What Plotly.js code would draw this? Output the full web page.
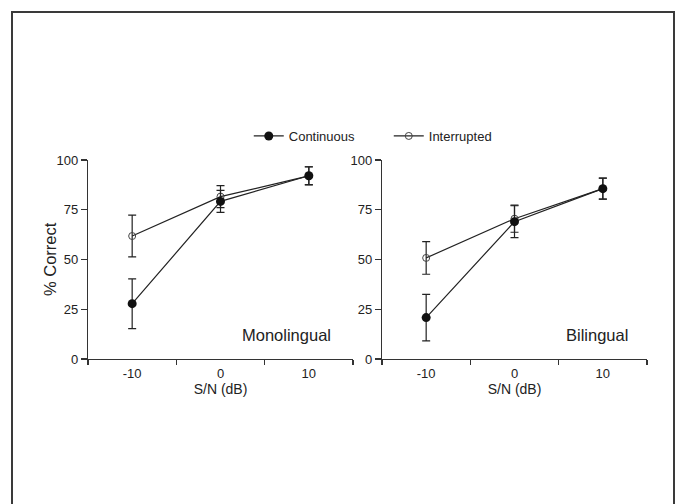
<!DOCTYPE html>
<html>
<head>
<meta charset="utf-8">
<script src="https://cdn.plot.ly/plotly-3.0.1.min.js"></script>
<style>html,body{margin:0;padding:0;background:#fff;}#chart{width:676px;height:504px;}</style>
</head>
<body>
<div id="chart"></div>
<script>
const snr = [-10, 0, 10];
const monoContinuous = [27.8, 79.2, 92.1];
const monoContinuousErr = [12.5, 5.5, 4.5];
const monoInterrupted = [61.8, 81.6, 92.0];
const monoInterruptedErr = [10.5, 5.5, 4.5];
const biContinuous = [20.8, 69.0, 85.6];
const biContinuousErr = [11.7, 8.0, 5.3];
const biInterrupted = [50.8, 70.5, 85.6];
const biInterruptedErr = [8.2, 6.8, 5.3];
const yTicks = [0, 25, 50, 75, 100];
const xLabels = [-10, 0, 10];
const xTickMarks = [-15, -5, 5, 15];

const lineCol = '#222';
function contTrace(y, err, xa, ya, show) {
  return {x: snr, y: y, xaxis: xa, yaxis: ya, type: 'scatter', mode: 'lines+markers',
    name: 'Continuous', showlegend: show, legendrank: 1,
    line: {color: lineCol, width: 1.2},
    marker: {symbol: 'circle', size: 9, color: '#111', line: {color: '#111', width: 0}},
    error_y: {type: 'data', array: err, visible: true, color: lineCol, thickness: 1.2, width: 4}};
}
function intTrace(y, err, xa, ya, show) {
  return {x: snr, y: y, xaxis: xa, yaxis: ya, type: 'scatter', mode: 'lines+markers',
    name: 'Interrupted', showlegend: show, legendrank: 2,
    line: {color: lineCol, width: 1.2},
    marker: {symbol: 'circle-open', size: 7, color: '#444', line: {color: '#444', width: 1}},
    error_y: {type: 'data', array: err, visible: true, color: lineCol, thickness: 1.2, width: 4}};
}
const data = [
  intTrace(monoInterrupted, monoInterruptedErr, 'x', 'y', false),
  contTrace(monoContinuous, monoContinuousErr, 'x', 'y', true),
  intTrace(biInterrupted, biInterruptedErr, 'x2', 'y2', true),
  contTrace(biContinuous, biContinuousErr, 'x2', 'y2', false)
];

const font = {family: 'Liberation Sans, Arial, sans-serif', color: '#222', size: 13};
function xAxis(domain, anchor) {
  return {domain: domain, anchor: anchor, range: [-15, 15], showgrid: false, zeroline: false,
    showline: true, linecolor: '#333', linewidth: 1.2,
    tickmode: 'array', tickvals: xLabels, ticktext: xLabels.map(String),
    ticks: 'outside', ticklen: 0, tickcolor: '#333', ticklabelstandoff: 2,
    tickfont: {size: 13, color: '#222'},
    minor: {tickmode: 'array', tickvals: xTickMarks, ticks: 'outside', ticklen: 5, tickcolor: '#333', tickwidth: 1.2, showgrid: false},
    title: {text: 'S/N (dB)', font: {size: 14, color: '#222'}, standoff: 1}};
}
function yAxis(domain, anchor) {
  return {domain: domain, anchor: anchor, range: [0, 100], showgrid: false, zeroline: false,
    showline: true, linecolor: '#333', linewidth: 1.2,
    tickmode: 'array', tickvals: yTicks, ticktext: yTicks.map(String),
    ticks: 'outside', ticklen: 6, tickcolor: '#333', tickwidth: 1.2,
    tickfont: {size: 13, color: '#222'}};
}
const yDom = [1 - 359/504, 1 - 160/504];
const layout = {
  width: 676, height: 504, margin: {l: 0, r: 0, t: 0, b: 0},
  paper_bgcolor: '#fff', plot_bgcolor: '#fff', font: font,
  xaxis: xAxis([88/676, 353/676], 'y'),
  yaxis: yAxis(yDom, 'x'),
  xaxis2: xAxis([382/676, 647/676], 'y2'),
  yaxis2: yAxis(yDom, 'x2'),
  showlegend: true,
  legend: {orientation: 'h', x: 0.368, xanchor: 'left', y: 1 - 136/504, yanchor: 'middle',
    font: {size: 13, color: '#222'}, itemwidth: 30, entrywidth: 95, entrywidthmode: 'pixels',
    bgcolor: 'rgba(0,0,0,0)', traceorder: 'normal'},
  annotations: [
    {text: '% Correct', xref: 'paper', yref: 'paper', x: 50/676, y: 1 - 259/504, textangle: -90,
     xanchor: 'center', yanchor: 'middle', showarrow: false, font: {size: 16.5, color: '#222'}},
    {text: 'Monolingual', xref: 'x', yref: 'y', x: 12.75, y: 12, xanchor: 'right', yanchor: 'middle', showarrow: false, font: {size: 16.5, color: '#222'}},
    {text: 'Bilingual', xref: 'x2', yref: 'y2', x: 13.1, y: 12, xanchor: 'right', yanchor: 'middle', showarrow: false, font: {size: 16.5, color: '#222'}}
  ],
  shapes: [
    {type: 'rect', xref: 'paper', yref: 'paper', x0: 12/676, x1: 674/676, y0: -0.05, y1: 1 - 12/504,
     line: {color: '#3a3a3a', width: 2}, fillcolor: 'rgba(0,0,0,0)'}
  ]
};
Plotly.newPlot('chart', data, layout, {displayModeBar: false, staticPlot: true});
</script>
</body>
</html>
